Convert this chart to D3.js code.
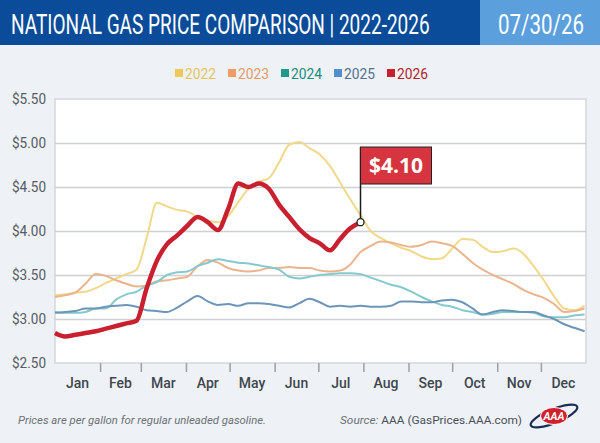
<!DOCTYPE html>
<html>
<head>
<meta charset="utf-8">
<script src="https://cdn.jsdelivr.net/npm/d3@7"></script>
<style>
  html, body { margin: 0; padding: 0; background: #eef2f6; }
  svg { display: block; font-family: Roboto, 'Liberation Sans', sans-serif; }
</style>
</head>
<body>
<svg id="chart" width="600" height="443"></svg>
<script>
// weekly readings, days counted from Jan 1
const weekOffsets = d3.range(0, 365, 7);
const years = ['2022', '2023', '2024', '2025', '2026'];
const monthLabels = ['Jan','Feb','Mar','Apr','May','Jun','Jul','Aug','Sep','Oct','Nov','Dec'];
const yTicks = [2.5, 3.0, 3.5, 4.0, 4.5, 5.0, 5.5];

const price2022 = [3.27,3.28,3.30,3.31,3.35,3.41,3.46,3.51,3.56,3.92,
  4.32,4.28,4.24,4.22,4.16,4.12,4.10,4.17,4.33,4.48,
  4.56,4.60,4.78,4.98,5.01,4.94,4.87,4.74,4.55,4.36,
  4.18,4.00,3.92,3.86,3.81,3.77,3.71,3.68,3.69,3.80,
  3.91,3.90,3.82,3.76,3.77,3.80,3.74,3.60,3.44,3.26,
  3.12,3.10,3.15];
const price2023 = [3.25,3.27,3.30,3.40,3.51,3.49,3.44,3.40,3.37,3.38,
  3.43,3.44,3.46,3.48,3.60,3.67,3.64,3.58,3.55,3.54,
  3.55,3.58,3.58,3.59,3.58,3.58,3.55,3.54,3.55,3.62,
  3.76,3.83,3.88,3.87,3.84,3.82,3.84,3.88,3.86,3.83,
  3.74,3.64,3.56,3.50,3.45,3.40,3.33,3.28,3.24,3.17,
  3.08,3.09,3.12];
const price2024 = [3.08,3.07,3.07,3.08,3.12,3.12,3.22,3.28,3.31,3.38,
  3.42,3.50,3.53,3.54,3.60,3.64,3.68,3.66,3.64,3.63,
  3.61,3.59,3.56,3.48,3.46,3.48,3.50,3.51,3.52,3.52,
  3.51,3.47,3.43,3.39,3.36,3.31,3.25,3.20,3.16,3.14,
  3.10,3.08,3.05,3.06,3.08,3.08,3.08,3.07,3.03,3.02,
  3.02,3.04,3.05];
const price2025 = [3.07,3.08,3.09,3.12,3.12,3.14,3.15,3.16,3.14,3.10,
  3.09,3.08,3.13,3.20,3.26,3.20,3.16,3.17,3.15,3.18,
  3.18,3.17,3.15,3.13,3.18,3.23,3.19,3.14,3.15,3.14,
  3.15,3.14,3.14,3.15,3.20,3.20,3.19,3.19,3.21,3.22,
  3.19,3.12,3.05,3.08,3.10,3.09,3.08,3.08,3.04,3.00,
  2.94,2.90,2.86];
const price2026 = [2.84,2.80,2.82,2.84,2.86,2.89,2.92,2.95,2.98,3.35,
  3.66,3.85,3.95,4.06,4.16,4.10,4.01,4.25,4.54,4.50,
  4.54,4.48,4.30,4.16,4.02,3.92,3.86,3.78,3.91,4.03,
  4.10];

const reportDate = '07/30/26';

const svg = d3.select('#chart');
let
  margin = {top: 99, right: 14, bottom: 80, left: 55},
  w = 600 - margin.left - margin.right,
  h = 443 - margin.top - margin.bottom,
  jan1 = new Date(2026, 0, 1),
  x = d3.scaleTime().domain([jan1, new Date(2027, 0, 1)]).range([0, w]),
  y = d3.scaleLinear().domain([2.5, 5.5]).range([h, 0]),
  lineColors = ['#f0d98a', '#ebb48e', '#86c9cd', '#6d95b8', '#c8202f'],
  legendColors = ['#efc857', '#ee9d66', '#1d9a8c', '#4e8fcc', '#c8202f'],
  legendText = ['#e6c45e', '#e49a6c', '#1b8c80', '#54708e', '#b21f2d']
  ;

// squeeze a text horizontally so it fills the given width (condensed look)
const fitText = (sel, left, baseline, width) => {
  let len = sel.node().getComputedTextLength();
  sel.attr('transform', `translate(${left},${baseline}) scale(${width / len},1)`);
  return sel;
};

// header
svg.append('rect').attr('width', 600).attr('height', 443).attr('fill', '#eef2f6');
svg.append('rect').attr('width', 480).attr('height', 45).attr('fill', '#0b4c9a');
svg.append('rect').attr('x', 480).attr('width', 120).attr('height', 45).attr('fill', '#5ba0dc');
svg.append('text')
  .attr('fill', '#fff').attr('font-size', 28)
  .text('NATIONAL GAS PRICE COMPARISON | 2022-2026')
  .call(fitText, 11, 34, 419);
svg.append('text')
  .attr('fill', '#fff').attr('font-size', 28)
  .text(reportDate)
  .call(fitText, 498, 34, 86);

// legend
const legend = svg.append('g')
  .selectAll('g')
  .data(years)
  .join('g')
  .attr('transform', (d, i) => `translate(${175 + i * 53},0)`);
legend.append('rect')
  .attr('y', 69).attr('width', 8).attr('height', 8)
  .attr('fill', (d, i) => legendColors[i]);
legend.append('text')
  .attr('x', 10).attr('y', 78.5)
  .attr('font-size', 14)
  .attr('textLength', 31).attr('lengthAdjust', 'spacingAndGlyphs')
  .attr('fill', (d, i) => legendText[i])
  .text(d => d);

// plot area
const plot = svg.append('g').attr('transform', `translate(${margin.left},${margin.top})`);
plot.append('rect')
  .attr('width', w).attr('height', h)
  .attr('fill', '#fff').attr('stroke', '#d4d8dd').attr('stroke-width', 1.5);

plot.append('g')
  .attr('class', 'grid')
  .call(d3.axisLeft(y).tickValues(yTicks.slice(1, -1)).tickSize(-w).tickFormat(''))
  .call(g => g.select('.domain').remove())
  .call(g => g.selectAll('line').attr('stroke', '#cdd0d4').attr('stroke-width', 1.3));

plot.append('g')
  .attr('class', 'axis--y')
  .call(d3.axisLeft(y).tickValues(yTicks).tickSize(0).tickPadding(9)
    .tickFormat(d => '$' + d.toFixed(2)))
  .call(g => g.select('.domain').remove())
  .call(g => g.selectAll('text')
    .attr('font-size', 15.5).attr('fill', '#555b62')
    .attr('font-family', 'Roboto, sans-serif')
    .attr('textLength', 34).attr('lengthAdjust', 'spacingAndGlyphs'));

const monthStarts = d3.timeMonth.range(jan1, new Date(2027, 0, 1));
plot.append('g')
  .attr('class', 'axis--x')
  .attr('transform', `translate(0,${h})`)
  .call(d3.axisBottom(x).tickValues(monthStarts.slice(1)).tickSize(9).tickFormat(''))
  .call(g => g.select('.domain').remove())
  .call(g => g.selectAll('line').attr('stroke', '#9aa0a6').attr('stroke-width', 1.5));

plot.append('g')
  .selectAll('text')
  .data(monthStarts)
  .join('text')
  .attr('x', d => (x(d) + x(d3.timeMonth.offset(d, 1))) / 2)
  .attr('y', h + 25)
  .attr('text-anchor', 'middle')
  .attr('font-size', 14).attr('font-weight', 500)
  .attr('fill', '#3f464e')
  .text((d, i) => monthLabels[i]);

// series
const series = [price2022, price2023, price2024, price2025, price2026];
const line = d3.line()
  .x((d, i) => x(d3.timeDay.offset(jan1, weekOffsets[i])))
  .y(d => y(d))
  .curve(d3.curveMonotoneX);

plot.append('g')
  .selectAll('path')
  .data(series)
  .join('path')
  .attr('fill', 'none')
  .attr('stroke', (d, i) => lineColors[i])
  .attr('stroke-width', (d, i) => i === 4 ? 4.5 : 2)
  .attr('stroke-linejoin', 'round')
  .attr('d', line);

// current price flag
let
  lastIndex = price2026.length - 1,
  px = x(d3.timeDay.offset(jan1, weekOffsets[lastIndex])),
  py = y(price2026[lastIndex]),
  flagTop = 48
  ;
plot.append('line')
  .attr('x1', px).attr('x2', px)
  .attr('y1', py).attr('y2', flagTop)
  .attr('stroke', '#1c1c1c').attr('stroke-width', 1.5);
plot.append('rect')
  .attr('x', px).attr('y', flagTop)
  .attr('width', 71).attr('height', 37)
  .attr('fill', '#d6343f').attr('stroke', '#222').attr('stroke-width', 1);
plot.append('text')
  .attr('x', px + 35.5).attr('y', flagTop + 26)
  .attr('text-anchor', 'middle')
  .attr('fill', '#fff').attr('font-size', 21).attr('font-weight', 700)
  .attr('font-family', "'Open Sans', sans-serif")
  .text('$' + price2026[lastIndex].toFixed(2));
plot.append('circle')
  .attr('cx', px).attr('cy', py).attr('r', 3.5)
  .attr('fill', '#fff').attr('stroke', '#222').attr('stroke-width', 1.3);

// footer
svg.append('text')
  .attr('x', 18).attr('y', 424)
  .attr('font-size', 10.5).attr('font-style', 'italic')
  .attr('fill', '#6b7077')
  .attr('textLength', 248).attr('lengthAdjust', 'spacingAndGlyphs')
  .text('Prices are per gallon for regular unleaded gasoline.');
const source = svg.append('text')
  .attr('x', 340).attr('y', 424)
  .attr('font-size', 11)
  .attr('textLength', 182).attr('lengthAdjust', 'spacingAndGlyphs');
source.append('tspan').attr('font-style', 'italic').attr('fill', '#6b7077').text('Source: ');
source.append('tspan').attr('fill', '#4a4f56').text('AAA (GasPrices.AAA.com)');

// AAA logo
const logo = svg.append('g').attr('transform', 'translate(554,416)');
logo.append('ellipse')
  .attr('rx', 25).attr('ry', 7)
  .attr('transform', 'rotate(-22)')
  .attr('fill', 'none').attr('stroke', '#1b2c55').attr('stroke-width', 2.2);
logo.append('ellipse')
  .attr('rx', 13.5).attr('ry', 8.5)
  .attr('fill', '#d0202e').attr('stroke', '#fff').attr('stroke-width', 1);
logo.append('text')
  .attr('y', 4).attr('text-anchor', 'middle')
  .attr('font-size', 11).attr('font-weight', 700).attr('font-style', 'italic')
  .attr('fill', '#fff')
  .attr('textLength', 21).attr('lengthAdjust', 'spacingAndGlyphs')
  .text('AAA');
</script>
</body>
</html>
